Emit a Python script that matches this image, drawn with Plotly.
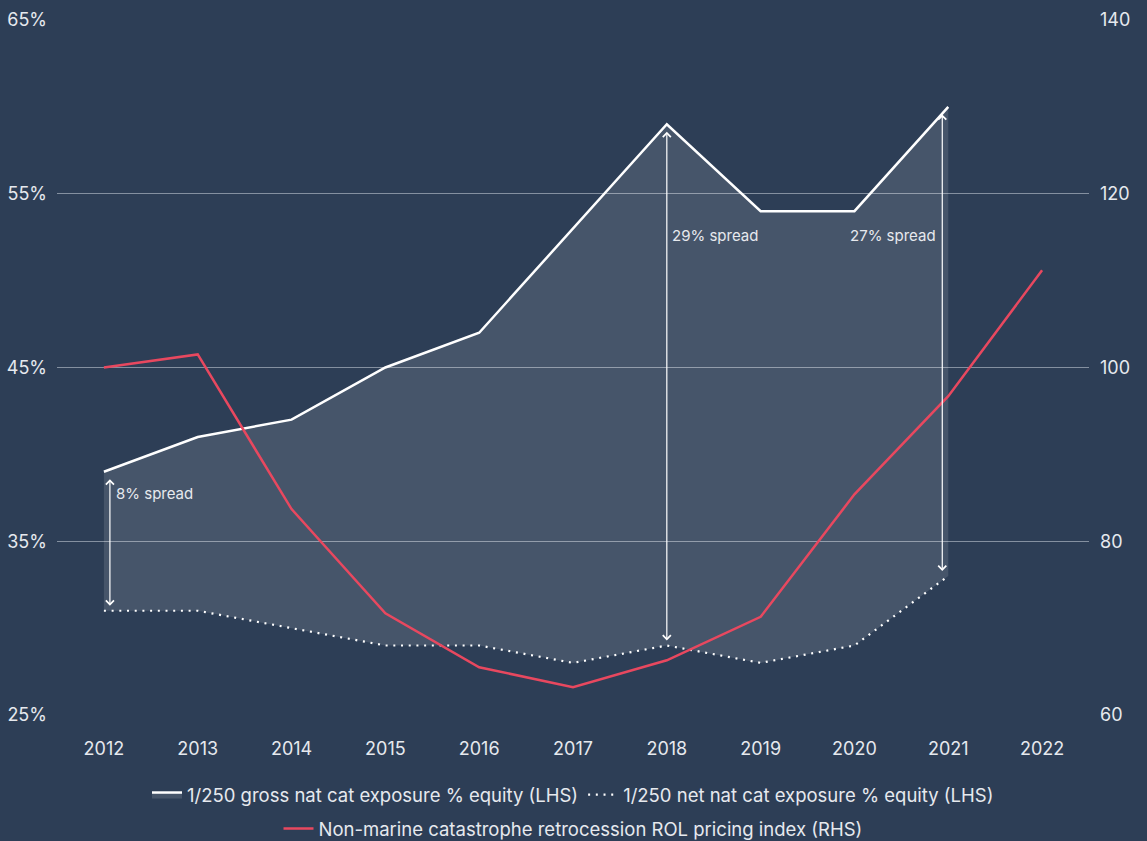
import plotly.graph_objects as go

years = [2012, 2013, 2014, 2015, 2016, 2017, 2018, 2019, 2020, 2021, 2022]
exp_years = [2012, 2013, 2014, 2015, 2016, 2017, 2018, 2019, 2020, 2021]
gross = [39, 41, 42, 45, 47, 53, 59, 54, 54, 60]
net = [31, 31, 30, 29, 29, 28, 29, 28, 29, 33]
rol_index = [100, 101.5, 83.7, 71.7, 65.5, 63.2, 66.3, 71.3, 85.4, 96.7, 111.2]

spread_years = [2012, 2018, 2021]
spread_labels = ["8% spread", "29% spread", "27% spread"]

left_ticks = [25, 35, 45, 55, 65]
right_ticks = [60, 80, 100, 120, 140]

BG = "#2d3e56"
TXT = "#e6e9ee"
GRID = "#8490a0"
RED = "#e8485f"
FONT = "Inter"

fig = go.Figure()

fig.add_trace(go.Scatter(
    x=exp_years, y=net, mode="lines",
    name="1/250 net nat cat exposure % equity (LHS)",
    line=dict(color="white", width=2.2, dash="2px,5.7px"),
    legend="legend", legendrank=2, hoverinfo="skip",
))
fig.add_trace(go.Scatter(
    x=exp_years, y=gross, mode="lines",
    name="1/250 gross nat cat exposure % equity (LHS)",
    line=dict(color="white", width=2.5),
    fill="tonexty", fillcolor="rgba(255,255,255,0.12)",
    legend="legend", legendrank=1, hoverinfo="skip",
))
fig.add_trace(go.Scatter(
    x=years, y=rol_index, mode="lines", yaxis="y2",
    name="Non-marine catastrophe retrocession ROL pricing index (RHS)",
    line=dict(color=RED, width=2.5),
    legend="legend2", hoverinfo="skip",
))

# spread arrows
shifts = {2012: 6, 2018: 0, 2021: -6}
for yr in spread_years:
    i = exp_years.index(yr)
    fig.add_annotation(
        x=yr, y=net[i], ax=yr, ay=gross[i], xref="x", yref="y", axref="x", ayref="y",
        text="", showarrow=True, arrowside="end+start", arrowhead=4, startarrowhead=4,
        arrowsize=1.3, startarrowsize=1.3, arrowwidth=1.2, arrowcolor="white",
        standoff=5, startstandoff=6, xshift=shifts[yr],
    )

label_pos = {2012: (37.75, "left", 10), 2018: (52.6, "left", 3), 2021: (52.6, "right", -10)}
for yr, lab in zip(spread_years, spread_labels):
    yv, anc, xs = label_pos[yr]
    fig.add_annotation(
        x=yr, y=yv, xref="x", yref="y", text=lab, showarrow=False,
        xanchor=anc, xshift=xs, font=dict(family=FONT, size=15, color=TXT),
    )

fig.update_layout(
    width=1147, height=841,
    paper_bgcolor=BG, plot_bgcolor=BG,
    margin=dict(l=57, r=58, t=20, b=126, autoexpand=False),
    font=dict(family=FONT, size=18, color=TXT),
    xaxis=dict(
        range=[2011.5, 2022.5], tickmode="array", tickvals=years,
        ticktext=[str(y) for y in years], showgrid=False, zeroline=False,
        showline=False, ticks="", ticklabelstandoff=21,
        tickfont=dict(family=FONT, size=18, color=TXT),
    ),
    yaxis=dict(
        range=[25, 65], tickmode="array", tickvals=left_ticks,
        ticktext=[f"{v}%" for v in left_ticks], showgrid=True,
        gridcolor=GRID, gridwidth=1, zeroline=False, showline=False,
        ticks="", ticklabelstandoff=9,
        tickfont=dict(family=FONT, size=18, color=TXT),
    ),
    yaxis2=dict(
        range=[60, 140], tickmode="array", tickvals=right_ticks,
        ticktext=[str(v) for v in right_ticks], overlaying="y", side="right",
        showgrid=False, zeroline=False, showline=False, ticks="",
        ticklabelstandoff=10, tickfont=dict(family=FONT, size=18, color=TXT),
    ),
    legend=dict(
        orientation="h", x=0.5, xanchor="center",
        yref="container", y=1 - 795 / 841, yanchor="middle",
        font=dict(family=FONT, size=18.5, color=TXT), bgcolor="rgba(0,0,0,0)",
        traceorder="normal", itemwidth=30,
    ),
    legend2=dict(
        orientation="h", x=0.5, xanchor="center",
        yref="container", y=1 - 829 / 841, yanchor="middle",
        font=dict(family=FONT, size=18.5, color=TXT), bgcolor="rgba(0,0,0,0)",
        itemwidth=30,
    ),
    showlegend=True,
)

fig.write_html(
    "out.html",
    config={"displayModeBar": False},
    post_script="document.body.style.margin='0';document.body.style.overflow='hidden';",
)
